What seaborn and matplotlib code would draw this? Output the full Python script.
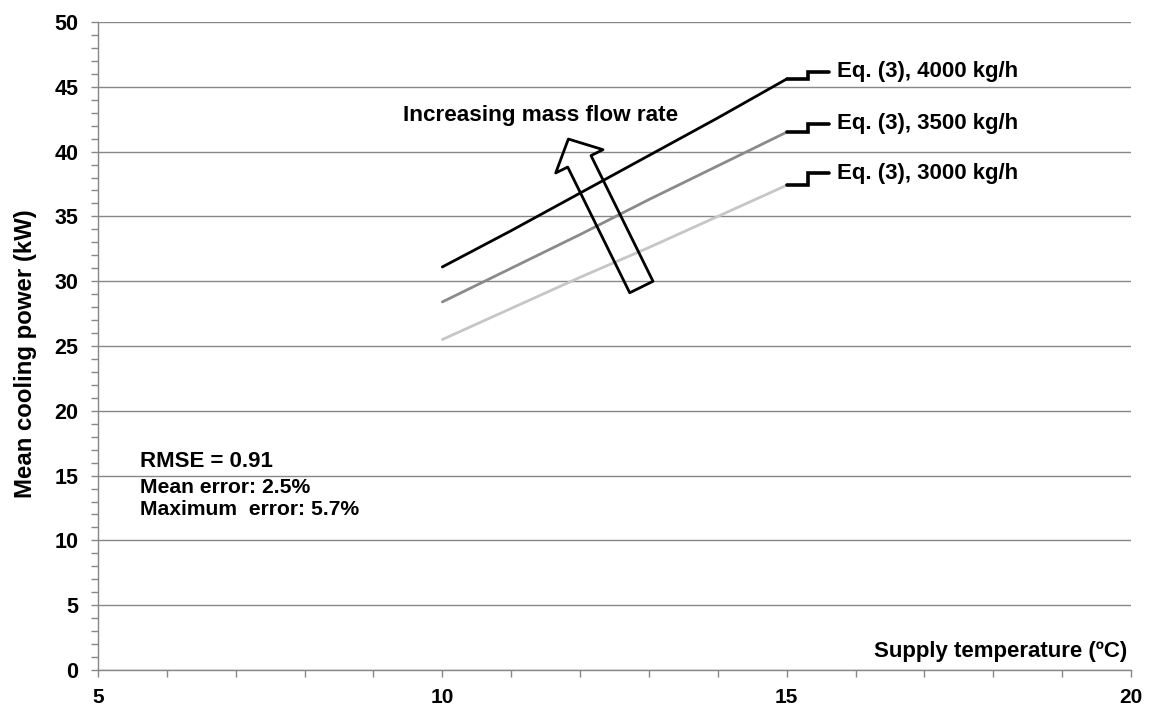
import matplotlib
matplotlib.use("Agg")
import matplotlib.pyplot as plt
import numpy as np
import pandas as pd
import seaborn as sns
from matplotlib.patches import FancyArrowPatch, ArrowStyle
from matplotlib.ticker import MultipleLocator

# ---- data ----
temps = [10, 11, 12, 13, 14, 15]
power_4000 = [31.1, 33.9, 36.8, 39.7, 42.6, 45.6]
power_3500 = [28.4, 31.0, 33.6, 36.3, 38.9, 41.5]
power_3000 = [25.5, 27.9, 30.3, 32.6, 35.0, 37.4]
series_labels = ["Eq. (3), 4000 kg/h", "Eq. (3), 3500 kg/h", "Eq. (3), 3000 kg/h"]
line_colors = ["#000000", "#8a8a8a", "#c6c6c6"]
x_ticks = [5, 10, 15, 20]
y_ticks = [0, 5, 10, 15, 20, 25, 30, 35, 40, 45, 50]
stats_lines = ["RMSE = 0.91", "Mean error: 2.5%", "Maximum  error: 5.7%"]

series_values = [power_4000, power_3500, power_3000]
df = pd.DataFrame({
    "temp": temps * 3,
    "power": power_4000 + power_3500 + power_3000,
    "series": [s for s in series_labels for _ in temps],
})

sns.set_theme(style="white")
plt.rcParams["font.family"] = ["Liberation Sans", "DejaVu Sans"]
plt.rcParams["font.weight"] = "bold"

fig = plt.figure(figsize=(11.49, 7.11), dpi=100)
ax = fig.add_axes([98 / 1149, 1 - 670 / 711, (1131 - 98) / 1149, (670 - 22) / 711])

sns.lineplot(data=df, x="temp", y="power", hue="series",
             palette=dict(zip(series_labels, line_colors)),
             linewidth=2, legend=False, ax=ax)

ax.set_xlim(x_ticks[0], x_ticks[-1])
ax.set_ylim(y_ticks[0], y_ticks[-1])
ax.set_xticks(x_ticks)
ax.set_yticks(y_ticks)
ax.xaxis.set_minor_locator(MultipleLocator(1))
ax.yaxis.set_minor_locator(MultipleLocator(1))
ax.set_xlabel("")
ax.set_ylabel("")

gcol = "#878787"
ax.grid(False)
ax.yaxis.grid(True, which="major", color=gcol, linewidth=1)
ax.set_axisbelow(True)
for side in ["top", "right"]:
    ax.spines[side].set_visible(False)
for side in ["left", "bottom"]:
    ax.spines[side].set_color(gcol)
    ax.spines[side].set_linewidth(1)

ax.tick_params(axis="both", which="both", direction="out", length=5,
               width=1, color=gcol, left=True, bottom=True)
ax.tick_params(axis="y", which="major", labelsize=15.5, pad=9)
ax.tick_params(axis="x", which="major", labelsize=15, pad=8)
for lab in ax.get_xticklabels() + ax.get_yticklabels():
    lab.set_fontweight("bold")
    lab.set_color("black")

# series end labels with step leader
rises = [0.57, 0.64, 0.93]
for vals, label, rise in zip(series_values, series_labels, rises):
    x_end = temps[-1]
    y_end = vals[-1]
    ax.plot([x_end, x_end + 0.31, x_end + 0.31, x_end + 0.62],
            [y_end, y_end, y_end + rise, y_end + rise],
            color="black", linewidth=2.6, solid_joinstyle="miter")
    ax.text(x_end + 0.735, y_end + rise, label, fontsize=16,
            fontweight="bold", va="center", ha="left", color="black")

# hollow block arrow
arrow = FancyArrowPatch(posA=(12.89, 29.55), posB=(11.83, 40.97),
                        arrowstyle=ArrowStyle.Simple(head_length=17.9,
                                                     head_width=38,
                                                     tail_width=18.7),
                        mutation_scale=1, shrinkA=0, shrinkB=0,
                        facecolor="none", edgecolor="black", linewidth=2,
                        zorder=3)
ax.add_patch(arrow)
ax.text(9.434, 42.82, "Increasing mass flow rate", fontsize=16.2,
        fontweight="bold", va="center", ha="left", color="black")

# stats text
ax.text(5.615, 16.05, stats_lines[0], fontsize=16, fontweight="bold",
        va="center", ha="left", color="black")
ax.text(5.615, 14.12, stats_lines[1], fontsize=15.2, fontweight="bold",
        va="center", ha="left", color="black")
ax.text(5.615, 12.35, stats_lines[2], fontsize=15.2, fontweight="bold",
        va="center", ha="left", color="black")

# axis titles
ax.text(0.996, 0.028, "Supply temperature (ºC)", transform=ax.transAxes,
        fontsize=16, fontweight="bold", ha="right", va="center", color="black")
fig.text(26 / 1149, 1 - 354 / 711, "Mean cooling power (kW)", rotation=90,
         fontsize=17.3, fontweight="bold", ha="center", va="center", color="black")

fig.savefig("out.png", dpi=100)
